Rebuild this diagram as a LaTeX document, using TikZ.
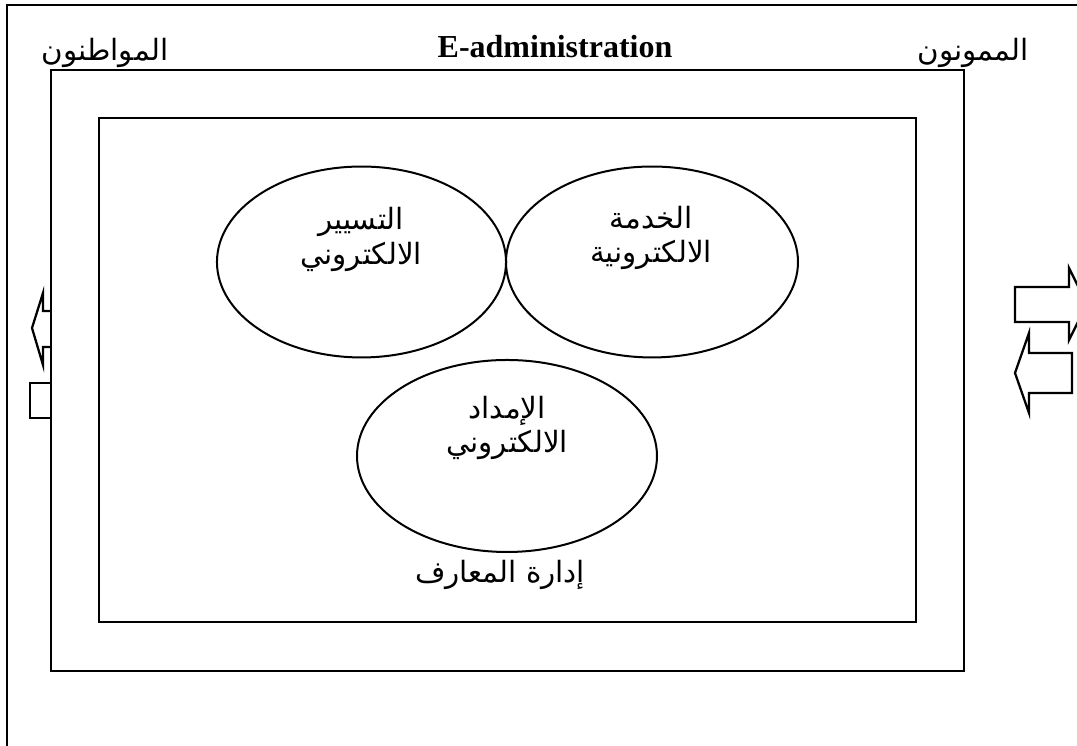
\documentclass[tikz,border=0pt]{standalone}
\usepackage{fontspec}
\setmainfont{Liberation Serif}
\newfontfamily\arabicfont[Script=Arabic]{DejaVu Sans}
\TeXXeTstate=1
\usetikzlibrary{shapes.geometric}
% right-to-left Arabic run
\newcommand{\artext}[1]{{\arabicfont\beginR #1\endR}}

\tikzset{
  framebox/.style={draw=black, line width=0.85pt},
  blockarrow/.style={draw=black, line width=0.85pt, fill=white, line join=miter},
  domainoval/.style={ellipse, draw=black, line width=0.75pt, inner sep=0pt},
  artxt/.style={font=\fontsize{11}{14}\selectfont\arabicfont, align=center, inner sep=0pt, anchor=base},
  titletext/.style={font=\fontsize{12}{14}\selectfont\bfseries, inner sep=0pt, anchor=base}
}

\begin{document}
\begin{tikzpicture}[x=0.375pt, y=-0.375pt]
\useasboundingbox (0,0) rectangle (1077,746);
\clip (0,0) rectangle (1077,746);

% outer frame (open to the right and bottom)
\coordinate (ob) at (7,760);
\coordinate (otl) at (7,5);
\coordinate (otr) at (1090,5);
\draw[framebox] (ob) -- (otl) -- (otr);

% block arrows on the left side
\draw[blockarrow] (70,311) -- (43,311) -- (43,293) -- (32,328) -- (43,365) -- (43,347) -- (70,347);
\draw[blockarrow] (70,383) -- (30,383) -- (30,418) -- (70,418);

% block arrows on the right side
\draw[blockarrow] (1015,287) -- (1069,287) -- (1069,268) -- (1087,304) -- (1069,340) -- (1069,322) -- (1015,322) -- cycle;
\draw[blockarrow] (1072,353) -- (1029,353) -- (1029,333) -- (1015,373) -- (1029,413) -- (1029,393) -- (1072,393) -- cycle;

% middle and inner frames
\node[framebox, fill=white, rectangle, inner sep=0pt, minimum width=342.4pt, minimum height=225.4pt] (mid) at (507.5,370.5) {};
\node[framebox, rectangle, inner sep=0pt, minimum width=306.4pt, minimum height=189pt] (inner) at (507.5,370) {};

% the three domains
\node[domainoval, minimum width=108.4pt, minimum height=71.6pt] (tasyir) at (361.5,262) {};
\node[domainoval, minimum width=109.5pt, minimum height=71.6pt] (khidma) at (652,262) {};
\node[domainoval, minimum width=112.5pt, minimum height=72pt] (imdad) at (507,456) {};

% labels
\node[titletext] (eadm) at (555,58) {E-administration};
\node[artxt] (muwatinun) at (105,61) {\artext{المواطنون}};
\node[artxt] (mumawwinun) at (973,61) {\artext{الممونون}};

\node[artxt] (t1) at (361,230) {\artext{التسيير}};
\node[artxt] (t2) at (361,265) {\artext{الالكتروني}};
\node[artxt] (k1) at (651,229) {\artext{الخدمة}};
\node[artxt] (k2) at (651,263) {\artext{الالكترونية}};
\node[artxt] (i1) at (507,419) {\artext{الإمداد}};
\node[artxt] (i2) at (507,453) {\artext{الالكتروني}};

\node[artxt] (marifa) at (500,583) {\artext{إدارة المعارف}};
\end{tikzpicture}
\end{document}
